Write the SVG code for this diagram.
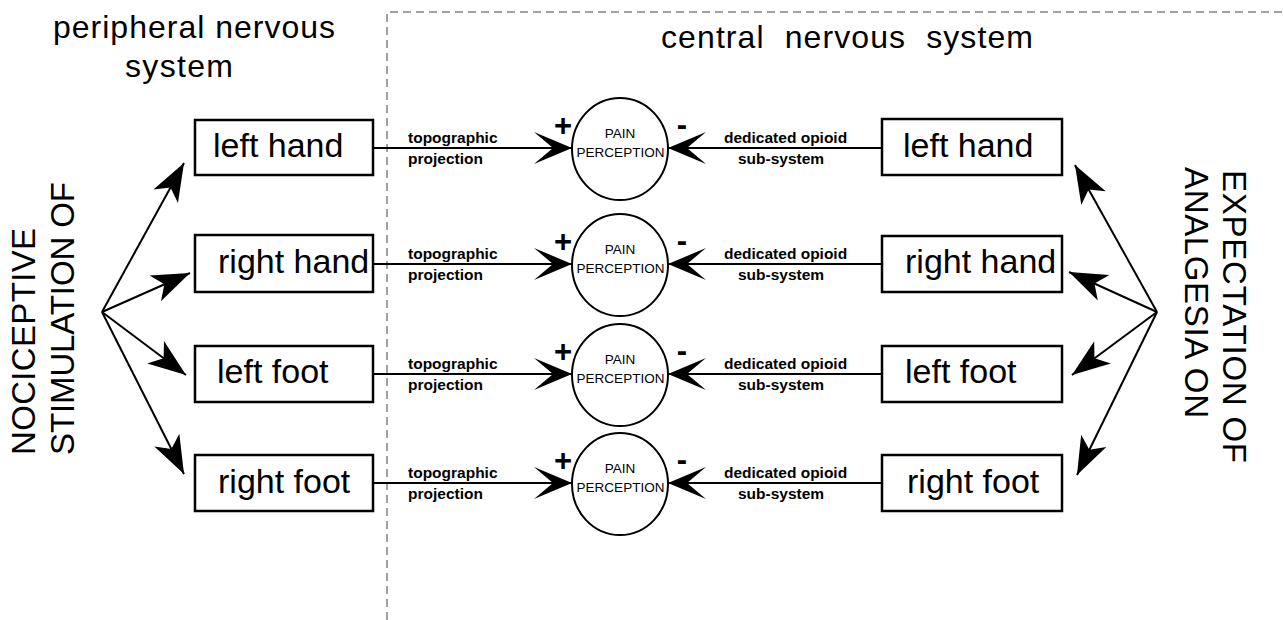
<svg xmlns="http://www.w3.org/2000/svg" width="1283" height="620" viewBox="0 0 1283 620">
<style>
.box{fill:#fff;stroke:#000;stroke-width:2.5}
.circ{fill:#fff;stroke:#000;stroke-width:2}
.ln{stroke:#000;stroke-width:2;fill:none}
.hz{marker-end:url(#hArrow)}
.fan{marker-end:url(#fArrow)}
.dash{stroke:#444;stroke-width:1;stroke-dasharray:8 5;fill:none}
text{font-family:"Liberation Sans",Arial,sans-serif;fill:#000}
.big{font-size:34px}
.hdr{font-size:32px}
.vert{font-size:33px}
.small{font-size:15.5px;font-weight:bold}
.pain{font-size:13.5px;text-anchor:middle}
.sign{font-size:31px;font-weight:bold;text-anchor:middle}
</style>
<defs>
<marker id="hArrow" markerUnits="userSpaceOnUse" viewBox="-42 -20 44 40" markerWidth="44" markerHeight="40" refX="0" refY="0" orient="auto">
<path d="M0,0 L-38,-16 L-19,0 L-38,16 Z" fill="#000"/>
</marker>
<marker id="fArrow" markerUnits="userSpaceOnUse" viewBox="-42 -20 44 40" markerWidth="44" markerHeight="40" refX="0" refY="0" orient="auto">
<path d="M0,0 L-38,-14 L-28,0 L-38,14 Z" fill="#000"/>
</marker>
</defs>
<rect width="1283" height="620" fill="#fff"/>

<g id="divider">
<path class="dash" d="M387,620 V12 H1283"/>
</g>

<g id="headers">
<text class="hdr" x="53" y="38" textLength="282">peripheral nervous</text>
<text class="hdr" x="125" y="77" textLength="108">system</text>
<text class="hdr" x="661" y="48" font-size="33" textLength="372" xml:space="preserve">central  nervous  system</text>
</g>

<g id="side-labels">
<text class="vert" transform="translate(35,455) rotate(-90)" textLength="227">NOCICEPTIVE</text>
<text class="vert" transform="translate(74,455) rotate(-90)" textLength="273">STIMULATION OF</text>
<text class="vert" transform="translate(1223,170) rotate(90)" textLength="293">EXPECTATION OF</text>
<text class="vert" transform="translate(1185,167) rotate(90)" textLength="251">ANALGESIA ON</text>
</g>

<g id="connectors">
<line class="ln fan" x1="102" y1="312" x2="184" y2="163"/>
<line class="ln fan" x1="102" y1="312" x2="190" y2="273"/>
<line class="ln fan" x1="102" y1="312" x2="186" y2="375"/>
<line class="ln fan" x1="102" y1="312" x2="184" y2="474"/>
<line class="ln fan" x1="1157" y1="312" x2="1075" y2="165"/>
<line class="ln fan" x1="1157" y1="312" x2="1069" y2="272"/>
<line class="ln fan" x1="1157" y1="312" x2="1072" y2="375"/>
<line class="ln fan" x1="1157" y1="312" x2="1077" y2="475"/>

<line class="ln hz" x1="373" y1="148" x2="572" y2="148"/>
<line class="ln hz" x1="882" y1="148" x2="668" y2="148"/>
<line class="ln hz" x1="373" y1="264" x2="572" y2="264"/>
<line class="ln hz" x1="882" y1="264" x2="668" y2="264"/>
<line class="ln hz" x1="373" y1="374" x2="572" y2="374"/>
<line class="ln hz" x1="882" y1="374" x2="668" y2="374"/>
<line class="ln hz" x1="373" y1="483" x2="572" y2="483"/>
<line class="ln hz" x1="882" y1="483" x2="668" y2="483"/>

<text class="small" x="408" y="143">topographic</text>
<text class="small" x="408" y="164">projection</text>
<text class="small" x="724" y="143">dedicated opioid</text>
<text class="small" x="738" y="164">sub-system</text>
<text class="small" x="408" y="259">topographic</text>
<text class="small" x="408" y="280">projection</text>
<text class="small" x="724" y="259">dedicated opioid</text>
<text class="small" x="738" y="280">sub-system</text>
<text class="small" x="408" y="369">topographic</text>
<text class="small" x="408" y="390">projection</text>
<text class="small" x="724" y="369">dedicated opioid</text>
<text class="small" x="738" y="390">sub-system</text>
<text class="small" x="408" y="478">topographic</text>
<text class="small" x="408" y="499">projection</text>
<text class="small" x="724" y="478">dedicated opioid</text>
<text class="small" x="738" y="499">sub-system</text>
</g>

<g id="left-hand-pns">
<rect class="box" x="195" y="120" width="178" height="55"/>
<text class="big" x="213" y="157">left hand</text>
</g>
<g id="right-hand-pns">
<rect class="box" x="195" y="235" width="178" height="57"/>
<text class="big" x="218" y="273">right hand</text>
</g>
<g id="left-foot-pns">
<rect class="box" x="195" y="346" width="178" height="56"/>
<text class="big" x="217" y="383">left foot</text>
</g>
<g id="right-foot-pns">
<rect class="box" x="195" y="455" width="178" height="56"/>
<text class="big" x="218" y="493">right foot</text>
</g>

<g id="left-hand-cns">
<rect class="box" x="882" y="119" width="180" height="56"/>
<text class="big" x="903" y="157">left hand</text>
</g>
<g id="right-hand-cns">
<rect class="box" x="882" y="236" width="180" height="56"/>
<text class="big" x="905" y="273">right hand</text>
</g>
<g id="left-foot-cns">
<rect class="box" x="882" y="346" width="180" height="56"/>
<text class="big" x="905" y="383">left foot</text>
</g>
<g id="right-foot-cns">
<rect class="box" x="882" y="455" width="180" height="56"/>
<text class="big" x="907" y="493">right foot</text>
</g>

<g id="pain-1">
<ellipse class="circ" cx="620" cy="149" rx="48" ry="51"/>
<text class="pain" x="620" y="138">PAIN</text>
<text class="pain" x="620.5" y="157" textLength="88">PERCEPTION</text>
<text class="sign" x="563" y="136">+</text>
<text class="sign" x="682" y="135">-</text>
</g>
<g id="pain-2">
<ellipse class="circ" cx="620" cy="265" rx="48" ry="51"/>
<text class="pain" x="620" y="254">PAIN</text>
<text class="pain" x="620.5" y="273" textLength="88">PERCEPTION</text>
<text class="sign" x="563" y="252">+</text>
<text class="sign" x="682" y="251">-</text>
</g>
<g id="pain-3">
<ellipse class="circ" cx="620" cy="375" rx="48" ry="51"/>
<text class="pain" x="620" y="364">PAIN</text>
<text class="pain" x="620.5" y="383" textLength="88">PERCEPTION</text>
<text class="sign" x="563" y="362">+</text>
<text class="sign" x="682" y="361">-</text>
</g>
<g id="pain-4">
<ellipse class="circ" cx="620" cy="484" rx="48" ry="51"/>
<text class="pain" x="620" y="473">PAIN</text>
<text class="pain" x="620.5" y="492" textLength="88">PERCEPTION</text>
<text class="sign" x="563" y="471">+</text>
<text class="sign" x="682" y="470">-</text>
</g>
</svg>
